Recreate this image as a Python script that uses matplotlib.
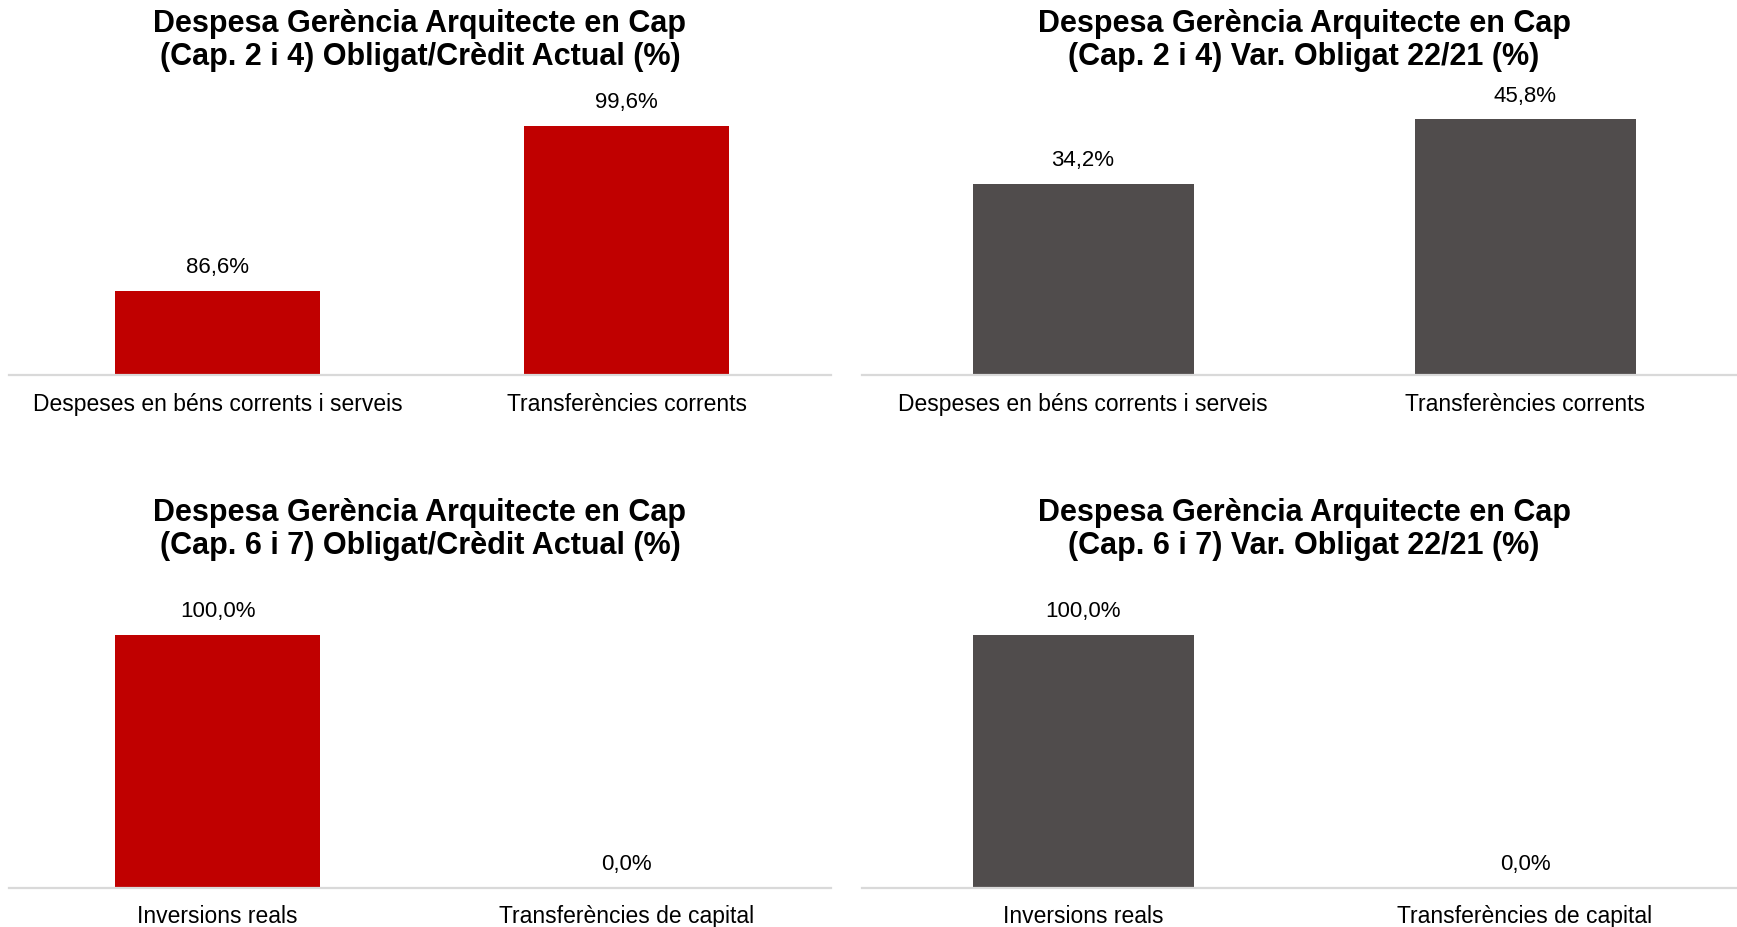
import matplotlib.pyplot as plt

plt.rcParams["font.family"] = ["Liberation Sans", "DejaVu Sans"]

RED = "#c00000"
GREY = "#504c4c"

cats_top = ["Despeses en béns corrents i serveis", "Transferències corrents"]
cats_bottom = ["Inversions reals", "Transferències de capital"]

obligat_credit_2_4 = [86.6, 99.6]
var_obligat_2_4 = [34.2, 45.8]
obligat_credit_6_7 = [100.0, 0.0]
var_obligat_6_7 = [100.0, 0.0]

titles = [
    "Despesa Gerència Arquitecte en Cap\n(Cap. 2 i 4) Obligat/Crèdit Actual (%)",
    "Despesa Gerència Arquitecte en Cap\n(Cap. 2 i 4) Var. Obligat 22/21 (%)",
    "Despesa Gerència Arquitecte en Cap\n(Cap. 6 i 7) Obligat/Crèdit Actual (%)",
    "Despesa Gerència Arquitecte en Cap\n(Cap. 6 i 7) Var. Obligat 22/21 (%)",
]

W, H = 1737, 928
fig = plt.figure(figsize=(W / 100, H / 100), dpi=100)


def px_axes(x0, x1, top, bottom):
    # pixel box (from top-left) -> figure fraction
    return fig.add_axes([x0 / W, 1 - bottom / H, (x1 - x0) / W, (bottom - top) / H])


panels = [
    (px_axes(9, 831, 102, 376), cats_top, obligat_credit_2_4, RED, (80, 101.6), -0.51, titles[0], 9),
    (px_axes(862, 1746, 102, 376), cats_top, var_obligat_2_4, GREY, (0, 49.1), -0.5, titles[1], 9),
    (px_axes(9, 831, 610, 888.5), cats_bottom, obligat_credit_6_7, RED, (0, 110.3), -0.51, titles[2], 498),
    (px_axes(862, 1746, 610, 888.5), cats_bottom, var_obligat_6_7, GREY, (0, 110.3), -0.5, titles[3], 498),
]

for ax, cats, vals, col, ylim, xmin, title, title_top in panels:
    x = range(len(cats))
    bars = ax.bar(x, vals, width=0.5, color=col, bottom=0)
    ax.set_xlim(xmin, 1.5)
    ax.set_ylim(*ylim)
    for b, v in zip(bars, vals):
        top = max(v, ylim[0])
        ax.annotate(f"{v:.1f}%".replace(".", ","), (b.get_x() + b.get_width() / 2, top),
                    xytext=(0, 10), textcoords="offset points",
                    ha="center", va="bottom", fontsize=16)
    ax.set_xticks(list(x))
    ax.set_xticklabels(cats, fontsize=16.5)
    ax.tick_params(axis="x", length=0, pad=12)
    ax.set_yticks([])
    for s in ["top", "left", "right"]:
        ax.spines[s].set_visible(False)
    ax.spines["bottom"].set_color("#d9d9d9")
    ax.spines["bottom"].set_linewidth(1.6)
    pos = ax.get_position()
    fig.text(pos.x0 + pos.width / 2, 1 - title_top / H, title, ha="center", va="top",
             fontsize=22, fontweight="bold", linespacing=1.15)

fig.savefig("out.png", dpi=100)
